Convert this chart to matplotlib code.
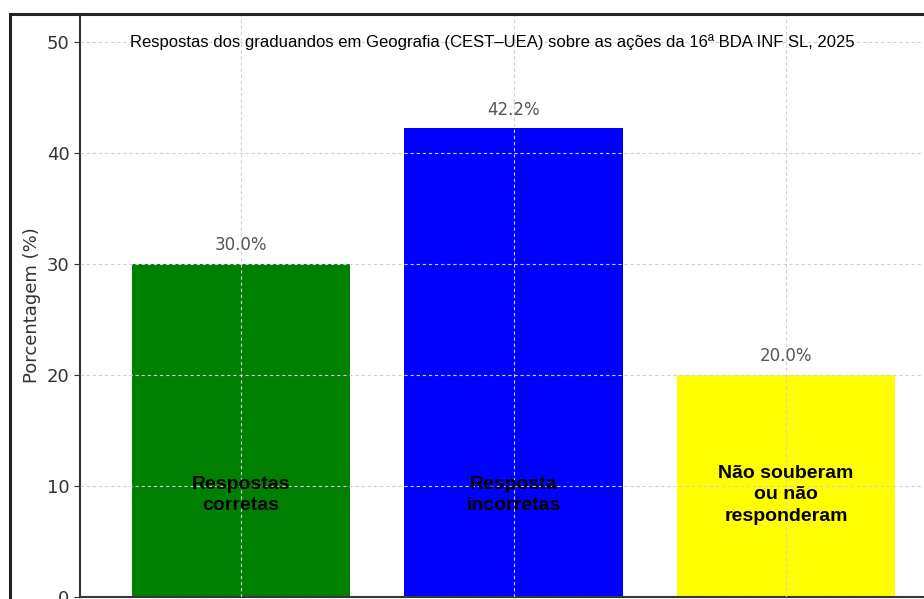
import matplotlib.pyplot as plt
from matplotlib.patches import Rectangle

# Dados
categorias = ["Respostas\ncorretas", "Resposta\nincorretas", "Não souberam\nou não\nresponderam"]
percentuais = [30.0, 42.2, 20.0]
cores = ["#008000", "#0000ff", "#ffff00"]
titulo = "Respostas dos graduandos em Geografia (CEST–UEA) sobre as ações da 16ª BDA INF SL, 2025"
yticks = [0, 10, 20, 30, 40, 50]

W, H = 924, 599
fig = plt.figure(figsize=(W / 100, H / 100), dpi=100)

# eixo posicionado em pixels (parte dele fica fora da imagem)
left, right, bottom, top = 80, 947, 597, 14
ax = fig.add_axes([left / W, (H - bottom) / H, (right - left) / W, (bottom - top) / H])

x = range(len(percentuais))
bars = ax.bar(x, percentuais, width=0.8, color=cores, zorder=1)

ax.set_xlim(-0.59, 2.59)
ax.set_ylim(0, 52.5)
ax.set_yticks(yticks)
ax.set_xticks(list(x))
ax.set_xticklabels([])
ax.tick_params(axis="y", labelsize=13, labelcolor="#333333", length=4, color="#333333")
ax.tick_params(axis="x", length=0)
ax.grid(True, linestyle=(0, (3, 2.5)), color="#d0d0d0", linewidth=0.8, zorder=3)
ax.set_axisbelow(False)

for s in ["top", "right"]:
    ax.spines[s].set_visible(False)
for s in ["left", "bottom"]:
    ax.spines[s].set_color("#333333")
    ax.spines[s].set_linewidth(1.5)

ax.set_ylabel("Porcentagem (%)", fontsize=13, color="#333333", labelpad=4)

# rótulos de valor acima das barras
for xi, v in zip(x, percentuais):
    ax.text(xi, v + 1.7, f"{v:.1f}%", ha="center", va="center",
            fontsize=12, color="#555555", zorder=5)

# rótulos dentro das barras
for xi, nome in zip(x, categorias):
    ax.text(xi, 9.2, nome, ha="center", va="center", fontsize=14,
            fontweight="bold", family="Liberation Sans", color="black",
            linespacing=1.35, zorder=5)

fig.text(492 / W, 1 - 42 / H, titulo, ha="center", va="center",
         fontsize=12, family="Liberation Sans", color="black")

# moldura externa
fig.patches.append(Rectangle((10 / W, -0.1), 1.2, (H - 14) / H + 0.1,
                             transform=fig.transFigure, fill=False,
                             edgecolor="#222222", linewidth=2.2))

fig.savefig("out.png", dpi=100)
